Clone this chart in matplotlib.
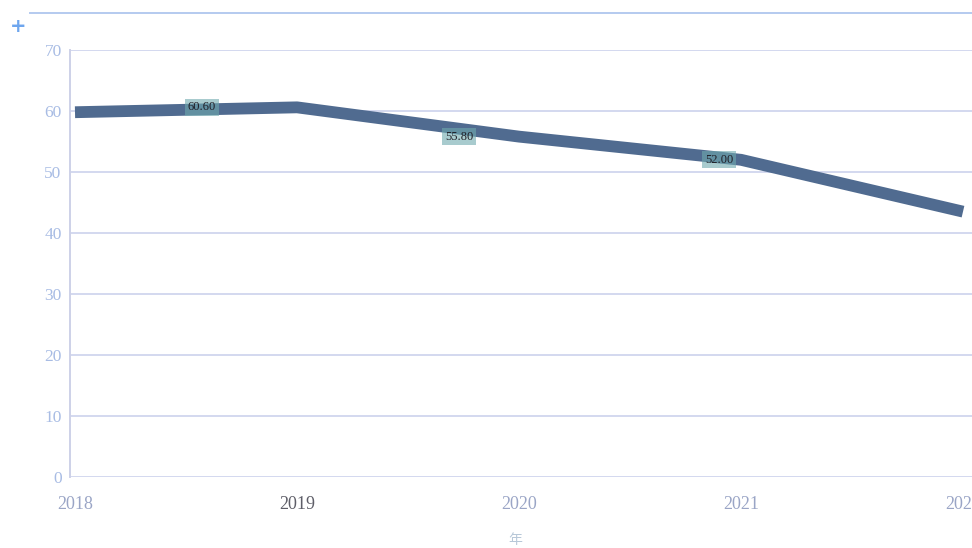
import matplotlib
matplotlib.use("Agg")
import matplotlib.pyplot as plt
from matplotlib.lines import Line2D

years = [2018, 2019, 2020, 2021, 2022]
values = [59.8, 60.6, 55.8, 52.0, 43.5]
year_labels = ["2018", "2019", "2020", "2021", "2022"]
y_ticks = [0, 10, 20, 30, 40, 50, 60, 70]
# data labels shown for these points (index), with horizontal offsets in px
label_idx = [1, 2, 3]
label_dx = [-95, -60, -22]

W, H = 972, 548
fig = plt.figure(figsize=(W / 100, H / 100), dpi=100)
fig.patch.set_facecolor("white")

left_px, right_px = 70, 985
top_px, bot_px = 50, 477
ax = fig.add_axes([left_px / W, 1 - bot_px / H, (right_px - left_px) / W, (bot_px - top_px) / H])
ax.set_facecolor("white")

px_per_year = 222.0
x0 = 2018 - (75 - left_px) / px_per_year
x1 = 2018 + (right_px - 75) / px_per_year
ax.set_xlim(x0, x1)
ax.set_ylim(0, 70)

ax.set_yticks(y_ticks)
ax.set_yticklabels([str(t) for t in y_ticks])
ax.set_xticks(years)
ax.set_xticklabels(year_labels)

for s in ["top", "right", "bottom"]:
    ax.spines[s].set_visible(False)
ax.spines["left"].set_color("#cdd1e8")
ax.spines["left"].set_linewidth(1.4)

ax.tick_params(axis="both", length=0)
ax.tick_params(axis="y", pad=6)
ax.tick_params(axis="x", pad=14)
for lab in ax.get_yticklabels():
    lab.set_fontfamily("Liberation Serif")
    lab.set_fontsize(12.5)
    lab.set_color("#a8bce4")
for lab in ax.get_xticklabels():
    lab.set_fontfamily("Liberation Serif")
    lab.set_fontsize(13)
    lab.set_color("#9aa5c6")
ax.get_xticklabels()[1].set_color("#5e5e68")

ax.grid(axis="y", color="#d0d6ee", linewidth=1.3)
ax.grid(axis="x", visible=False)
ax.set_axisbelow(True)

ax.plot(years, values, color="#506b90", linewidth=8.5, solid_capstyle="butt",
        solid_joinstyle="round", zorder=3)

for i, dx in zip(label_idx, label_dx):
    ax.annotate(f"{values[i]:.2f}", (years[i], values[i]), xytext=(dx * 0.72, 0),
                textcoords="offset points", ha="center", va="center",
                fontsize=9, fontfamily="Liberation Serif", color="#202028",
                bbox=dict(boxstyle="square,pad=0.2", fc="#6fa9ae", ec="none", alpha=0.6),
                zorder=4)

# top decorative border line and anchor icon
fig.add_artist(Line2D([30 / W, 1.0], [1 - 13 / H, 1 - 13 / H], color="#b4caef",
                      linewidth=1.4, transform=fig.transFigure))
fig.text(18 / W, 1 - 26 / H, "+", color="#6ea6ee", fontsize=14, fontweight="bold",
         ha="center", va="center")
fig.text(515 / W, 1 - 540 / H, "年", color="#b8c8d8", fontsize=10,
         family=["Noto Sans CJK SC", "DejaVu Sans"], ha="center", va="center")

fig.savefig("out.png", dpi=100, facecolor="white")
